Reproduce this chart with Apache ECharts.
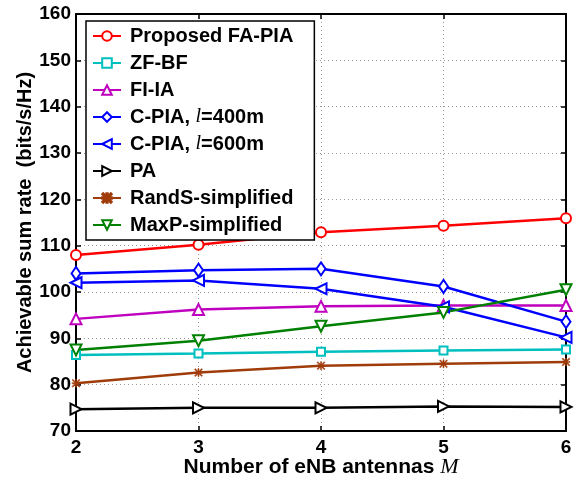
<!DOCTYPE html>
<html><head><meta charset="utf-8">
<script src="https://cdn.jsdelivr.net/npm/echarts@6/dist/echarts.min.js"></script>
<style>html,body{margin:0;padding:0;background:#fff}#c{width:579px;height:483px}</style>
</head><body><div id="c"></div>
<script>
const antennas = ['2', '3', '4', '5', '6'];
const yTicks = [70, 160, 10];
const seriesNames = ['Proposed FA-PIA', 'ZF-BF', 'FI-IA', 'C-PIA, l=400m', 'C-PIA, l=600m', 'PA', 'RandS-simplified', 'MaxP-simplified'];
const proposedFAPIA = [108.0, 110.2, 112.9, 114.3, 115.9];
const zfBF = [86.4, 86.7, 87.1, 87.4, 87.6];
const fiIA = [94.2, 96.2, 96.9, 97.1, 97.1];
const cPIA400 = [104.0, 104.7, 105.0, 101.2, 93.6];
const cPIA600 = [102.0, 102.5, 100.7, 96.8, 90.2];
const pa = [74.7, 75.0, 75.0, 75.3, 75.2];
const randS = [80.3, 82.6, 84.1, 84.5, 84.9];
const maxP = [87.5, 89.5, 92.6, 95.6, 100.5];

const FONT = 'Liberation Sans';
const asterisk = 'path://M0,4.3L10,4.3L10,5.7L0,5.7ZM4.3,0L5.7,0L5.7,10L4.3,10ZM0,1L1,0L10,9L9,10ZM9,0L10,1L1,10L0,9Z';

function mk(name, data, color, symbol, size, rotate) {
  return {
    name: name, type: 'line', data: data,
    symbol: symbol, symbolSize: size, symbolRotate: rotate || 0,
    showSymbol: true,
    lineStyle: { color: color, width: 2.5 },
    itemStyle: { color: color, borderColor: color, borderWidth: symbol === asterisk ? 0.5 : 1.8 },
    emphasis: { disabled: true },
    animation: false
  };
}

const chart = echarts.init(document.getElementById('c'), null, { renderer: 'canvas' });
const axisCommon = {
  axisLine: { show: true, lineStyle: { color: '#000', width: 2 } },
  axisTick: { show: true, inside: true, length: 5, lineStyle: { color: '#000', width: 1.5 } }
};
chart.setOption({
  animation: false,
  backgroundColor: '#fff',
  grid: { left: 76, right: 13, top: 14, bottom: 52, containLabel: false },
  legend: {
    orient: 'vertical', left: 86, top: 21,
    data: seriesNames,
    backgroundColor: '#fff', borderColor: '#000', borderWidth: 1.5,
    padding: [5, 21, 5, 6],
    itemWidth: 28, itemHeight: 12, itemGap: 7,
    selectedMode: false,
    textStyle: {
      fontFamily: FONT, fontWeight: 'bold', fontSize: 20, color: '#000', lineHeight: 20,
      padding: [0, 0, 0, 4],
      rich: { i: { fontFamily: 'Liberation Serif', fontStyle: 'italic', fontWeight: 'normal', fontSize: 20, lineHeight: 20 } }
    },
    formatter: function (n) { return n.replace('l=', '{i|l}='); }
  },
  xAxis: [
    Object.assign({
      type: 'category', data: antennas, boundaryGap: false,
      name: '{a|Number of eNB antennas }{m|M}', nameLocation: 'middle', nameGap: 25,
      nameMoveOverlap: false,
      nameTextStyle: { rich: {
        a: { fontFamily: FONT, fontWeight: 'bold', fontSize: 21, color: '#000' },
        m: { fontFamily: 'Liberation Serif', fontStyle: 'italic', fontSize: 22, color: '#000' } } },
      axisLabel: { fontFamily: FONT, fontWeight: 'bold', fontSize: 19, color: '#000', margin: 7 },
      splitLine: { show: true, lineStyle: { color: '#9a9a9a', type: [1, 3], width: 1 } }
    }, axisCommon),
    Object.assign({
      type: 'category', data: antennas, boundaryGap: false, position: 'top',
      axisLabel: { show: false }, splitLine: { show: false }
    }, axisCommon)
  ],
  yAxis: [
    Object.assign({
      type: 'value', min: yTicks[0], max: yTicks[1], interval: yTicks[2],
      name: 'Achievable sum rate  (bits/s/Hz)', nameLocation: 'middle', nameGap: 41,
      nameMoveOverlap: false,
      nameTextStyle: { fontFamily: FONT, fontWeight: 'bold', fontSize: 20, color: '#000' },
      axisLabel: { fontFamily: FONT, fontWeight: 'bold', fontSize: 19, color: '#000', margin: 5 },
      splitLine: { show: true, lineStyle: { color: '#9a9a9a', type: [1, 3], width: 1 } }
    }, axisCommon),
    Object.assign({
      type: 'value', min: yTicks[0], max: yTicks[1], interval: yTicks[2], position: 'right',
      axisLabel: { show: false }, splitLine: { show: false }
    }, axisCommon)
  ],
  series: [
    mk(seriesNames[0], proposedFAPIA, '#ff0000', 'emptyCircle', 10),
    mk(seriesNames[1], zfBF, '#00bfbf', 'emptyRect', 8),
    mk(seriesNames[2], fiIA, '#bf00bf', 'emptyTriangle', 11),
    mk(seriesNames[3], cPIA400, '#0000ff', 'emptyDiamond', [9, 13]),
    mk(seriesNames[4], cPIA600, '#0000ff', 'emptyTriangle', 11, 90),
    mk(seriesNames[5], pa, '#000000', 'emptyTriangle', 11, -90),
    mk(seriesNames[6], randS, '#a03c0a', asterisk, 8),
    mk(seriesNames[7], maxP, '#008000', 'emptyTriangle', 11, 180)
  ]
});
</script></body></html>
